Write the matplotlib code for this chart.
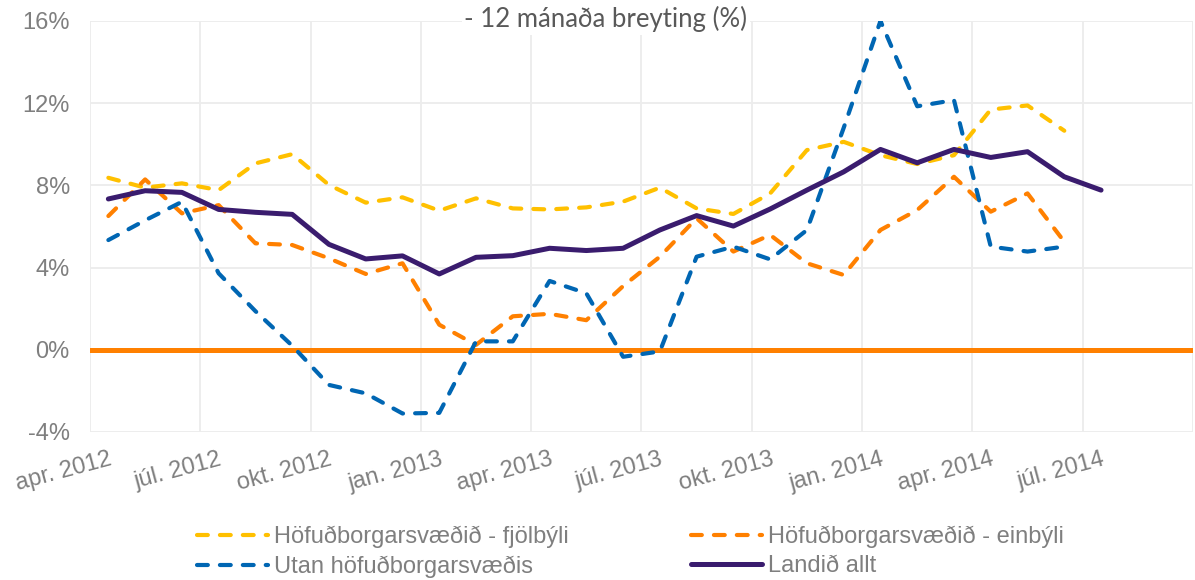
import numpy as np
import matplotlib.pyplot as plt

plt.rcParams['font.family'] = ['Liberation Sans', 'DejaVu Sans']

# 12 month change (%), monthly from apr. 2012
fjolbyli = [8.37, 7.89, 8.10, 7.77, 9.07, 9.52, 8.02, 7.16, 7.42, 6.77, 7.37, 6.88, 6.83, 6.93,
            7.21, 7.89, 6.88, 6.61, 7.61, 9.72, 10.12, 9.47, 9.04, 9.47, 11.69, 11.89, 10.66]
einbyli = [6.51, 8.29, 6.64, 7.04, 5.18, 5.10, 4.45, 3.69, 4.21, 1.22, 0.24, 1.63, 1.75, 1.44,
           3.10, 4.53, 6.40, 4.78, 5.59, 4.21, 3.64, 5.83, 6.80, 8.42, 6.72, 7.61, 5.26]
utan = [5.34, 6.30, 7.20, 3.72, 1.88, 0.20, -1.71, -2.12, -3.10, -3.07, 0.41, 0.41, 3.35, 2.75,
        -0.34, -0.08, 4.53, 5.02, 4.40, 5.83, 10.80, 16.00, 11.85, 12.15, 5.02, 4.78, 5.02]
landid = [7.34, 7.74, 7.66, 6.83, 6.69, 6.59, 5.13, 4.42, 4.57, 3.69, 4.50, 4.58, 4.94, 4.83,
          4.94, 5.83, 6.53, 6.02, 6.85, 7.77, 8.66, 9.75, 9.10, 9.75, 9.36, 9.64, 8.42, 7.77]

quarter_labels = ['apr. 2012', 'júl. 2012', 'okt. 2012', 'jan. 2013', 'apr. 2013',
                  'júl. 2013', 'okt. 2013', 'jan. 2014', 'apr. 2014', 'júl. 2014']
n_months = 30  # axis runs apr. 2012 - okt. 2014

series_names = ['Höfuðborgarsvæðið - fjölbýli', 'Höfuðborgarsvæðið - einbýli',
                'Utan höfuðborgarsvæðis', 'Landið allt']

fig = plt.figure(figsize=(11.95, 5.8), dpi=100)
ax = fig.add_axes([0.0753, 0.2552, 0.923, 0.7086])

gray = '#7f7f7f'
dash = dict(lw=3.0, dashes=(2.6, 2.9), dash_capstyle='round', dash_joinstyle='round')

# points sit in the middle of each month
def xs(vals):
    return np.arange(len(vals)) + 0.5

ax.axhline(0, color='#FF8000', lw=3.6, zorder=2)
l1, = ax.plot(xs(fjolbyli), fjolbyli, color='#FFC000', zorder=3, **dash)
l2, = ax.plot(xs(einbyli), einbyli, color='#FF8000', zorder=3, **dash)
l3, = ax.plot(xs(utan), utan, color='#0066B3', zorder=3, **dash)
l4, = ax.plot(xs(landid), landid, color='#3A1C6E', lw=3.6, zorder=4,
              solid_joinstyle='round', solid_capstyle='round')

ax.set_xlim(0, n_months)
ax.set_ylim(-4, 16)
ax.set_yticks(np.arange(-4, 17, 4))
ax.set_yticklabels([f'{v}%' for v in range(-4, 17, 4)])

# gridlines on quarter boundaries, labels offset half a month
ax.set_xticks(np.arange(0, n_months + 1, 3))
ax.set_xticklabels([])
ax.set_xticks(np.arange(0, 28, 3) + 0.5, minor=True)
ax.set_xticklabels(quarter_labels, minor=True, rotation=15, ha='right', va='top',
                   rotation_mode='anchor')

ax.tick_params(axis='both', which='both', length=0, labelsize=17, labelcolor=gray)
ax.tick_params(axis='x', which='minor', pad=12)
ax.tick_params(axis='y', pad=14.5)
ax.grid(True, which='major', color='#ECECEC', lw=1.3)
ax.set_axisbelow(True)
for s in ax.spines.values():
    s.set_visible(False)

fig.text(606 / 1195, 1 - 19 / 580, '- 12 mánaða breyting (%)', ha='center', va='center',
         fontsize=18.5, color='#595959', family=['Lato', 'DejaVu Sans'],
         bbox=dict(fc='white', ec='none', pad=2))

handles = [l1, l3, l2, l4]
labels = [series_names[0], series_names[2], series_names[1], series_names[3]]
fig.legend(handles, labels, ncol=2, loc='upper left', bbox_to_anchor=(197 / 1195, 1 - 526 / 580),
           frameon=False, fontsize=17, labelcolor=gray, borderpad=0, borderaxespad=0,
           handlelength=3.0, handletextpad=0.25, columnspacing=5.2, labelspacing=0.3)

fig.savefig('out.png', dpi=100)
